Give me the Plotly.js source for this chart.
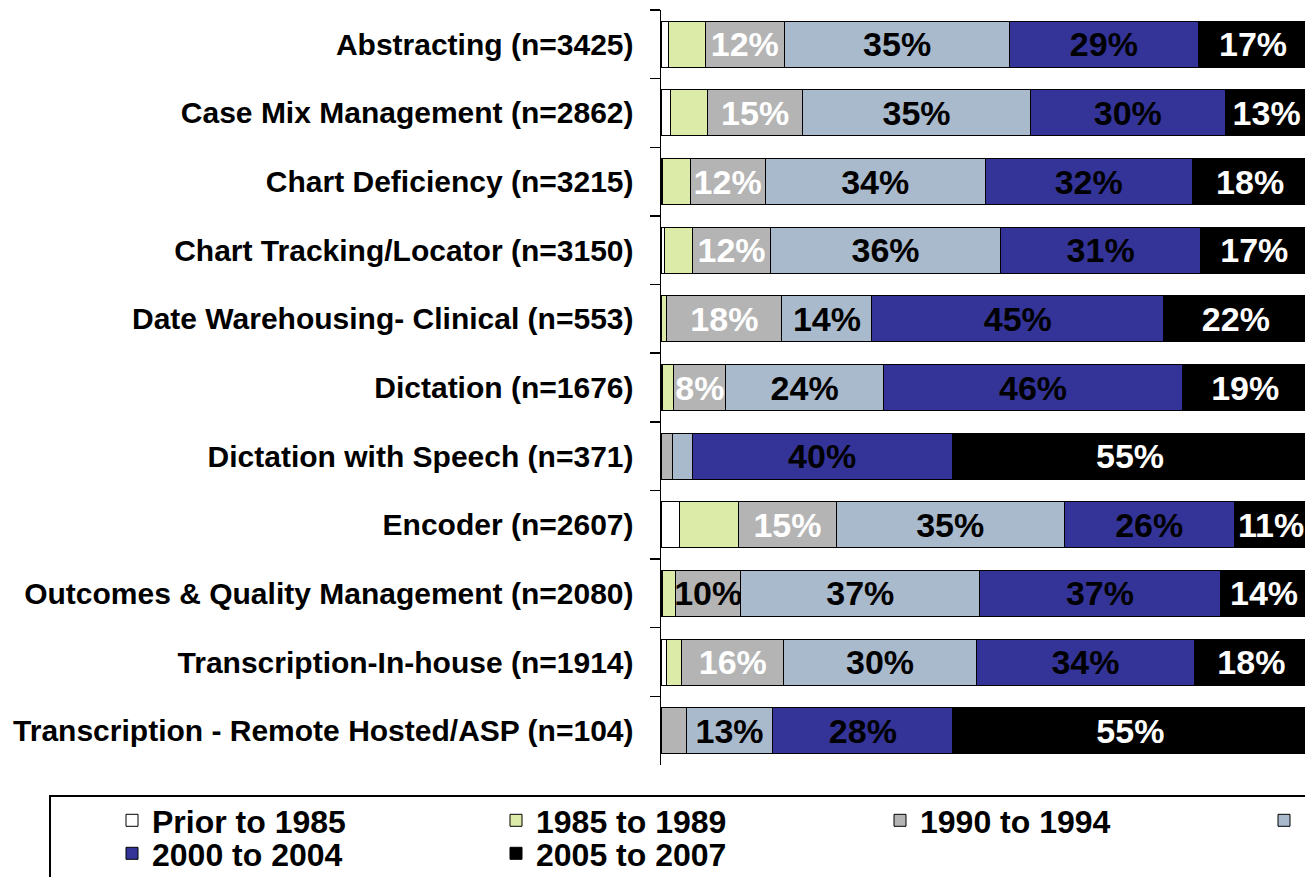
<!DOCTYPE html>
<html>
<head>
<meta charset="utf-8">
<script src="https://cdn.plot.ly/plotly-3.0.1.min.js"></script>
<style>
html, body { margin: 0; padding: 0; background: #ffffff; overflow: hidden; }
#wrap { width: 1305px; height: 877px; overflow: hidden; position: relative; }
</style>
</head>
<body>
<div id="wrap"><div id="chart"></div></div>
<script>
// Categories (top to bottom)
var categories = [
  "Abstracting (n=3425)",
  "Case Mix Management (n=2862)",
  "Chart Deficiency (n=3215)",
  "Chart Tracking/Locator (n=3150)",
  "Date Warehousing- Clinical (n=553)",
  "Dictation (n=1676)",
  "Dictation with Speech (n=371)",
  "Encoder (n=2607)",
  "Outcomes & Quality Management (n=2080)",
  "Transcription-In-house (n=1914)",
  "Transcription - Remote Hosted/ASP (n=104)"
];

// Series names
var seriesNames = ["Prior to 1985", "1985 to 1989", "1990 to 1994", "1995 to 1999", "2000 to 2004", "2005 to 2007"];

// Values (percent)
var prior1985   = [1.2, 1.5, 0.3, 0.6, 0.0, 0.3, 0.0, 2.9, 0.3, 0.9, 0.0];
var y1985to1989 = [5.6, 5.7, 4.2, 4.3, 0.9, 1.7, 0.0, 9.1, 2.0, 2.3, 0.0];
var y1990to1994 = [12.3, 14.7, 11.6, 12.0, 17.8, 8.0, 1.7, 15.1, 10.0, 15.8, 3.9];
var y1995to1999 = [34.8, 35.2, 34.0, 35.6, 13.9, 24.4, 3.1, 35.2, 37.0, 29.7, 13.4];
var y2000to2004 = [29.1, 30.1, 32.0, 30.9, 45.1, 46.2, 40.2, 26.3, 37.1, 33.8, 27.8];
var y2005to2007 = [17.0, 12.8, 17.9, 16.6, 22.3, 19.4, 55.0, 11.4, 13.6, 17.5, 54.9];

// Data labels as shown in the picture ('' = no label)
var lblPrior = ["", "", "", "", "", "", "", "", "", "", ""];
var lbl1985  = ["", "", "", "", "", "", "", "", "", "", ""];
var lbl1990  = ["12%", "15%", "12%", "12%", "18%", "8%", "", "15%", "10%", "16%", ""];
var lbl1995  = ["35%", "35%", "34%", "36%", "14%", "24%", "", "35%", "37%", "30%", "13%"];
var lbl2000  = ["29%", "30%", "32%", "31%", "45%", "46%", "40%", "26%", "37%", "34%", "28%"];
var lbl2005  = ["17%", "13%", "18%", "17%", "22%", "19%", "55%", "11%", "14%", "18%", "55%"];

// label colours for the 1990-1994 series (one label is drawn black)
var col1990 = ["#ffffff", "#ffffff", "#ffffff", "#ffffff", "#ffffff", "#ffffff", "#ffffff", "#ffffff", "#000000", "#ffffff", "#ffffff"];

var colors = ["#ffffff", "#dceca8", "#b4b4b4", "#a9bacc", "#343498", "#000000"];
var values = [prior1985, y1985to1989, y1990to1994, y1995to1999, y2000to2004, y2005to2007];
var labels = [lblPrior, lbl1985, lbl1990, lbl1995, lbl2000, lbl2005];
var textColors = ["#000000", "#000000", col1990, "#000000", "#000000", "#ffffff"];
var legendRow = ["legend", "legend", "legend", "legend", "legend2", "legend2"];

var FONT = "Liberation Sans, Arial, Helvetica, sans-serif";

var traces = values.map(function(v, k) {
  return {
    type: "bar",
    orientation: "h",
    name: seriesNames[k],
    legend: legendRow[k],
    y: categories,
    x: v.map(function(p){ return p / 100; }),
    text: labels[k],
    textposition: "inside",
    insidetextanchor: "middle",
    constraintext: "none",
    textangle: 0,
    textfont: { family: FONT, size: 34, weight: "bold", color: textColors[k] },
    marker: { color: colors[k], line: { color: "#000000", width: 1 } },
    hoverinfo: "skip"
  };
});

// geometry: 100% spans 647 px; plot area continues past the visible window
var L = 661, FULL = 647, PW = 1000, R = 50, T = 10, PH = 755, BOT = 185;
var W = L + PW + R, H = T + PH + BOT;
function px(x) { return (x - L) / PW; }
function py(y) { return (T + PH - y) / PH; }

var legendCommon = {
  orientation: "h",
  xanchor: "left", yanchor: "top",
  indentation: 62,
  entrywidth: 277, entrywidthmode: "pixels",
  traceorder: "normal",
  font: { family: FONT, size: 32, weight: "bold", color: "#000000" },
  bgcolor: "rgba(0,0,0,0)", borderwidth: 0
};

var layout = {
  width: W,
  height: H,
  barmode: "stack",
  bargap: 0.33,
  paper_bgcolor: "#ffffff",
  plot_bgcolor: "#ffffff",
  margin: { l: L, r: R, t: T, b: BOT, pad: 0, autoexpand: false },
  font: { family: FONT, color: "#000000" },
  xaxis: {
    range: [0, PW / FULL],
    showgrid: false, zeroline: false, showline: false, showticklabels: false, ticks: "",
    fixedrange: true
  },
  yaxis: {
    type: "category",
    autorange: "reversed",
    showline: true, linecolor: "#000000", linewidth: 1.5,
    ticks: "outside", tickson: "boundaries", ticklen: 10, tickwidth: 1.5, tickcolor: "#000000",
    ticklabelstandoff: 20,
    tickfont: { family: FONT, size: 30, weight: "bold", color: "#000000" },
    showgrid: false, zeroline: false,
    fixedrange: true
  },
  showlegend: true,
  legend: Object.assign({}, legendCommon, { x: px(50), y: py(793) }),
  legend2: Object.assign({}, legendCommon, { x: px(50), y: py(826) }),
  shapes: [{
    type: "rect", xref: "paper", yref: "paper",
    x0: px(50), x1: px(1690), y0: py(796), y1: py(940),
    line: { color: "#000000", width: 2 }, fillcolor: "#ffffff", layer: "below"
  }]
};

Plotly.newPlot("chart", traces, layout, { displayModeBar: false, staticPlot: true });
</script>
</body>
</html>
